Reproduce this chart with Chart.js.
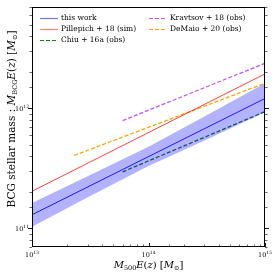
<!DOCTYPE html>
<html>
<head>
<meta charset="utf-8">
<script src="https://cdn.jsdelivr.net/npm/chart.js@4"></script>
<style>
  html, body { margin: 0; padding: 0; background: #fff; }
  #wrap { width: 274px; height: 274px; }
</style>
</head>
<body>
<div id="wrap"><canvas id="myChart" width="274" height="274"></canvas></div>
<script>
// halo mass grid (M500 E(z), Msun)
const bandMass = [1e13, 3.16e13, 1e14, 3.16e14, 1e15];
const bandUpper = [1.63e11, 2.79e11, 4.79e11, 8.77e11, 1.62e12];
const bandLower = [1.03e11, 1.86e11, 3.31e11, 5.50e11, 9.3e11];

const fitMass = [1e13, 1e15];
const fitStellar = [1.30e11, 1.21e12];

const pillepichMass = [1e13, 1e15];
const pillepichStellar = [2.04e11, 1.94e12];

const chiuMass = [6e13, 1e15];
const chiuStellar = [2.96e11, 9.4e11];

const kravtsovMass = [6e13, 1e15];
const kravtsovStellar = [7.9e11, 2.38e12];

const demaioMass = [2.3e13, 1e15];
const demaioStellar = [4.06e11, 1.62e12];

const xTickExp = [13, 14, 15];
const yTickExp = [11, 12];

const SERIF = '"DejaVu Serif", "Liberation Serif", serif';

function pts(xs, ys) {
    return xs.map((x, i) => ({x: x, y: ys[i]}));
}

function isMajor(v) {
    const l = Math.log10(v);
    return Math.abs(l - Math.round(l)) < 1e-6;
}

// draws a run of text pieces, e.g. M with a subscript
function drawRuns(ctx, runs, x, y) {
    let cx = x;
    runs.forEach(r => {
        ctx.font = r.font;
        ctx.fillText(r.t, cx, y + (r.dy || 0));
        cx += ctx.measureText(r.t).width;
    });
}

function runsWidth(ctx, runs) {
    let w = 0;
    runs.forEach(r => {
        ctx.font = r.font;
        w += ctx.measureText(r.t).width;
    });
    return w;
}

function powerRuns(exp) {
    return [{t: '10', font: '6.5px ' + SERIF}, {t: String(exp), font: '4.5px ' + SERIF, dy: -3}];
}

const legendItems = [
    {ds: 2, col: 0, row: 0, label: 'this work'},
    {ds: 3, col: 0, row: 1, label: 'Pillepich + 18 (sim)'},
    {ds: 4, col: 0, row: 2, label: 'Chiu + 16a (obs)'},
    {ds: 5, col: 1, row: 0, label: 'Kravtsov + 18 (obs)'},
    {ds: 6, col: 1, row: 1, label: 'DeMaio + 20 (obs)'}
];

const decorPlugin = {
    id: 'decor',
    afterDraw(chart) {
        const ctx = chart.ctx;
        const a = chart.chartArea;
        const xs = chart.scales.x;
        const ys = chart.scales.y;
        ctx.save();

        // ticks: y outward on both sides, x inward
        ctx.strokeStyle = '#000';
        ys.ticks.forEach(t => {
            const py = Math.round(ys.getPixelForValue(t.value)) + 0.5;
            const len = isMajor(t.value) ? 4 : 2.5;
            ctx.lineWidth = isMajor(t.value) ? 0.9 : 0.6;
            ctx.beginPath();
            ctx.moveTo(a.left - len, py);
            ctx.lineTo(a.left, py);
            ctx.moveTo(a.right, py);
            ctx.lineTo(a.right + len, py);
            ctx.stroke();
        });
        xs.ticks.forEach(t => {
            const px = Math.round(xs.getPixelForValue(t.value)) + 0.5;
            const len = isMajor(t.value) ? 4 : 2.5;
            ctx.lineWidth = isMajor(t.value) ? 0.9 : 0.6;
            ctx.beginPath();
            ctx.moveTo(px, a.bottom);
            ctx.lineTo(px, a.bottom - len);
            ctx.stroke();
        });

        // frame
        ctx.lineWidth = 1;
        ctx.strokeRect(a.left + 0.5, a.top + 0.5, a.right - a.left - 1, a.bottom - a.top - 1);

        // tick labels
        ctx.fillStyle = '#000';
        ctx.textBaseline = 'alphabetic';
        ctx.textAlign = 'left';
        xTickExp.forEach(e => {
            const runs = powerRuns(e);
            const w = runsWidth(ctx, runs);
            const px = xs.getPixelForValue(Math.pow(10, e));
            drawRuns(ctx, runs, px - w / 2, 257);
        });
        yTickExp.forEach(e => {
            const runs = powerRuns(e);
            const w = runsWidth(ctx, runs);
            const py = ys.getPixelForValue(Math.pow(10, e));
            drawRuns(ctx, runs, 29 - w, py + 2.5);
        });

        // legend
        ctx.textBaseline = 'middle';
        legendItems.forEach(it => {
            const ds = chart.data.datasets[it.ds];
            const x0 = it.col === 0 ? 40 : 149;
            const y0 = 18.5 + it.row * 11;
            ctx.strokeStyle = ds.legendColor || ds.borderColor;
            ctx.lineWidth = 1.2;
            ctx.setLineDash(ds.borderDash || []);
            ctx.beginPath();
            ctx.moveTo(x0, y0);
            ctx.lineTo(x0 + 18, y0);
            ctx.stroke();
            ctx.setLineDash([]);
            ctx.fillStyle = '#000';
            ctx.font = '7.5px ' + SERIF;
            ctx.fillText(it.label, x0 + 21, y0);
        });

        // x title
        ctx.fillStyle = '#000';
        ctx.textBaseline = 'alphabetic';
        const big = '10px ' + SERIF;
        const bigI = 'italic 10px ' + SERIF;
        const small = '6.5px ' + SERIF;
        const xRuns = [
            {t: 'M', font: bigI}, {t: '500', font: small, dy: 2},
            {t: 'E', font: bigI}, {t: '(', font: big}, {t: 'z', font: bigI},
            {t: ') [', font: big}, {t: 'M', font: bigI}, {t: '⊙', font: small, dy: 2},
            {t: ']', font: big}
        ];
        const xw = runsWidth(ctx, xRuns);
        drawRuns(ctx, xRuns, (a.left + a.right) / 2 - xw / 2, 268);

        // y title
        const yBig = '10.5px ' + SERIF;
        const yBigI = 'italic 10.5px ' + SERIF;
        const yRuns = [
            {t: 'BCG stellar mass : ', font: yBig},
            {t: 'M', font: yBigI}, {t: 'BCG', font: small, dy: 2},
            {t: 'E', font: yBigI}, {t: '(', font: yBig}, {t: 'z', font: yBigI},
            {t: ') [', font: yBig}, {t: 'M', font: yBigI}, {t: '⊙', font: small, dy: 2},
            {t: ']', font: yBig}
        ];
        const yw = runsWidth(ctx, yRuns);
        ctx.translate(14.5, 119);
        ctx.rotate(-Math.PI / 2);
        drawRuns(ctx, yRuns, -yw / 2, 0);
        ctx.restore();
    }
};

const ctx = document.getElementById('myChart').getContext('2d');
new Chart(ctx, {
    type: 'line',
    data: {
        datasets: [{
            label: 'band upper',
            data: pts(bandMass, bandUpper),
            borderWidth: 0,
            pointRadius: 0,
            backgroundColor: 'rgba(0, 0, 255, 0.3)',
            fill: 1
        }, {
            label: 'band lower',
            data: pts(bandMass, bandLower),
            borderWidth: 0,
            pointRadius: 0,
            fill: false
        }, {
            label: 'this work',
            data: pts(fitMass, fitStellar),
            borderColor: 'rgba(0, 0, 255, 0.85)',
            legendColor: 'rgba(0, 0, 255, 0.55)',
            borderWidth: 1,
            pointRadius: 0,
            fill: false
        }, {
            label: 'Pillepich + 18 (sim)',
            data: pts(pillepichMass, pillepichStellar),
            borderColor: 'rgba(255, 0, 0, 0.75)',
            legendColor: 'rgba(255, 0, 0, 0.5)',
            borderWidth: 1,
            pointRadius: 0,
            fill: false
        }, {
            label: 'Chiu + 16a (obs)',
            data: pts(chiuMass, chiuStellar),
            borderColor: '#118011',
            borderWidth: 1.3,
            borderDash: [4, 2],
            pointRadius: 0,
            fill: false
        }, {
            label: 'Kravtsov + 18 (obs)',
            data: pts(kravtsovMass, kravtsovStellar),
            borderColor: '#c050ff',
            borderWidth: 1.3,
            borderDash: [4, 2],
            pointRadius: 0,
            fill: false
        }, {
            label: 'DeMaio + 20 (obs)',
            data: pts(demaioMass, demaioStellar),
            borderColor: '#ffa500',
            borderWidth: 1.3,
            borderDash: [4, 2],
            pointRadius: 0,
            fill: false
        }]
    },
    options: {
        responsive: false,
        animation: false,
        devicePixelRatio: 1,
        layout: {padding: {top: 7, right: 9, left: 0, bottom: 0}},
        plugins: {
            legend: {display: false},
            tooltip: {enabled: false},
            filler: {propagate: false}
        },
        scales: {
            x: {
                type: 'logarithmic',
                min: 1e13,
                max: 1e15,
                grid: {display: false},
                border: {display: false},
                afterFit: s => { s.height = 27; },
                ticks: {autoSkip: false, display: false}
            },
            y: {
                type: 'logarithmic',
                min: 7e10,
                max: 7e12,
                grid: {display: false},
                border: {display: false},
                afterFit: s => { s.width = 32; },
                ticks: {autoSkip: false, display: false}
            }
        }
    },
    plugins: [decorPlugin]
});
</script>
</body>
</html>
